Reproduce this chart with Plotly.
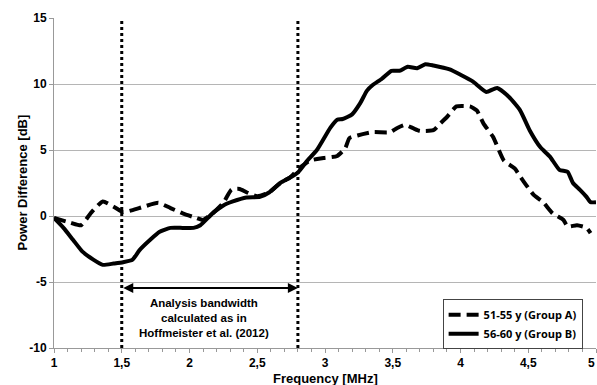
import plotly.graph_objects as go

# Group A (51-55 y), dashed
freq_a = [1.0, 1.12, 1.2, 1.27, 1.36, 1.44, 1.51, 1.58, 1.66, 1.77, 1.86, 1.95, 2.05, 2.1,
          2.17, 2.25, 2.31, 2.37, 2.42, 2.5, 2.59, 2.67, 2.74, 2.82, 2.89, 2.99, 3.09, 3.15,
          3.18, 3.24, 3.35, 3.48, 3.53, 3.59, 3.65, 3.7, 3.8, 3.85, 3.9, 3.97, 4.07, 4.12,
          4.17, 4.24, 4.32, 4.4, 4.46, 4.54, 4.61, 4.68, 4.76, 4.79, 4.86, 4.93, 4.96]
power_a = [-0.15, -0.5, -0.7, 0.2, 1.1, 0.7, 0.3, 0.45, 0.7, 1.0, 0.6, 0.2, -0.15, -0.3,
           0.2, 1.0, 2.0, 2.05, 1.8, 1.5, 1.8, 2.5, 2.9, 3.7, 4.2, 4.4, 4.55, 5.15,
           5.9, 6.1, 6.35, 6.35, 6.65, 6.9, 6.65, 6.45, 6.5, 7.0, 7.5, 8.3, 8.3, 8.0,
           7.0, 6.0, 4.2, 3.6, 2.7, 1.6, 1.05, 0.2, -0.3, -0.8, -0.7, -0.9, -1.3]

# Group B (56-60 y), solid
freq_b = [1.0, 1.07, 1.14, 1.21, 1.29, 1.36, 1.44, 1.51, 1.58, 1.63, 1.71, 1.78, 1.86,
          1.95, 2.03, 2.08, 2.17, 2.25, 2.32, 2.42, 2.52, 2.59, 2.67, 2.74, 2.8, 2.87,
          2.94, 3.04, 3.09, 3.13, 3.2, 3.26, 3.31, 3.35, 3.42, 3.49, 3.55, 3.61, 3.68,
          3.74, 3.8, 3.92, 4.0, 4.09, 4.19, 4.27, 4.36, 4.44, 4.51, 4.59, 4.66, 4.73,
          4.79, 4.83, 4.88, 4.93, 4.96, 5.0]
power_b = [-0.15, -0.9, -1.8, -2.7, -3.3, -3.7, -3.6, -3.5, -3.3, -2.6, -1.8, -1.2, -0.9,
           -0.9, -0.9, -0.7, 0.2, 0.8, 1.1, 1.4, 1.45, 1.8, 2.5, 2.9, 3.3, 4.2,
           5.0, 6.7, 7.3, 7.35, 7.7, 8.55, 9.5, 9.9, 10.4, 11.0, 11.0, 11.3, 11.2,
           11.5, 11.4, 11.1, 10.7, 10.2, 9.4, 9.7, 9.0, 8.0, 6.5, 5.2, 4.5, 3.5,
           3.35, 2.5, 2.0, 1.45, 1.05, 1.05]

band_edges = [1.5, 2.8]
x_ticks = [1, 1.5, 2, 2.5, 3, 3.5, 4, 4.5, 5]
x_ticktext = ["1", "1,5", "2", "2,5", "3", "3,5", "4", "4,5", "5"]
y_ticks = [-10, -5, 0, 5, 10, 15]

FONT = "Liberation Sans"

fig = go.Figure()
fig.add_trace(go.Scatter(x=freq_a, y=power_a, mode="lines", name="<b>51-55 y (Group A)</b>",
                         line=dict(color="black", width=4, dash="12px,6px", shape="spline", smoothing=0.5)))
fig.add_trace(go.Scatter(x=freq_b, y=power_b, mode="lines", name="<b>56-60 y (Group B)</b>",
                         line=dict(color="black", width=4, shape="spline", smoothing=0.5)))

for xe in band_edges:
    fig.add_shape(type="line", xref="x", yref="y", x0=xe, x1=xe, y0=-10, y1=15,
                  line=dict(color="black", width=3, dash="dot"), layer="above")

fig.add_annotation(x=band_edges[1], y=-5.45, ax=band_edges[0], ay=-5.45,
                   xref="x", yref="y", axref="x", ayref="y", text="",
                   showarrow=True, arrowhead=2, arrowside="end+start",
                   arrowsize=1, arrowwidth=2, arrowcolor="black")
fig.add_annotation(x=2.11, y=-7.7, xref="x", yref="y", showarrow=False,
                   text="<b>Analysis bandwidth<br>calculated as in<br>Hoffmeister et al. (2012)</b>",
                   font=dict(family=FONT, size=11.5, color="black"), align="center")

# last tick label, kept inside the right edge
fig.add_annotation(x=x_ticks[-1], y=0, xref="x", yref="paper", yanchor="top", yshift=-6,
                   xanchor="right", xshift=1,
                   showarrow=False, text=f"<b>{x_ticktext[-1]}</b>",
                   font=dict(family=FONT, size=12, color="black"))

fig.add_annotation(x=0.5, y=0, xref="paper", yref="paper", yshift=-40, yanchor="bottom",
                   showarrow=False, text="<b>Frequency [MHz]</b>",
                   font=dict(family=FONT, size=13, color="black"))
fig.add_annotation(x=0, y=0.5, xref="paper", yref="paper", xshift=-42, textangle=-90,
                   showarrow=False, text="<b>Power Difference [dB]</b>",
                   font=dict(family=FONT, size=13, color="black"))

fig.update_layout(
    width=597, height=385,
    margin=dict(l=54, r=1, t=18, b=37),
    plot_bgcolor="white", paper_bgcolor="white",
    font=dict(family=FONT, size=12, color="black"),
    showlegend=True,
    legend=dict(x=0.717, y=0.148, xanchor="left", yanchor="top",
                bordercolor="#444", borderwidth=1, bgcolor="white",
                font=dict(family="Open Sans", size=11, color="black"),
                tracegroupgap=0, itemwidth=30),
)
fig.update_xaxes(range=[1, 5], tickvals=x_ticks, ticktext=[f"<b>{t}</b>" for t in x_ticktext],
                 showgrid=False, zeroline=False, showline=True, linecolor="#999", linewidth=1,
                 ticks="outside", ticklen=4, tickcolor="#999",
                 minor=dict(dtick=0.1, ticks="outside", ticklen=3, tickcolor="#999"),
                 tickfont=dict(family=FONT, size=12))
fig.update_yaxes(range=[-10, 15], tickvals=y_ticks, ticktext=[f"<b>{t}</b>" for t in y_ticks],
                 showgrid=True, gridcolor="#b5b5b5", gridwidth=1, zeroline=False,
                 showline=True, linecolor="#999", linewidth=1,
                 ticks="outside", ticklen=4, tickcolor="#999",
                 tickfont=dict(family=FONT, size=12))

fig.write_html("out.html")
